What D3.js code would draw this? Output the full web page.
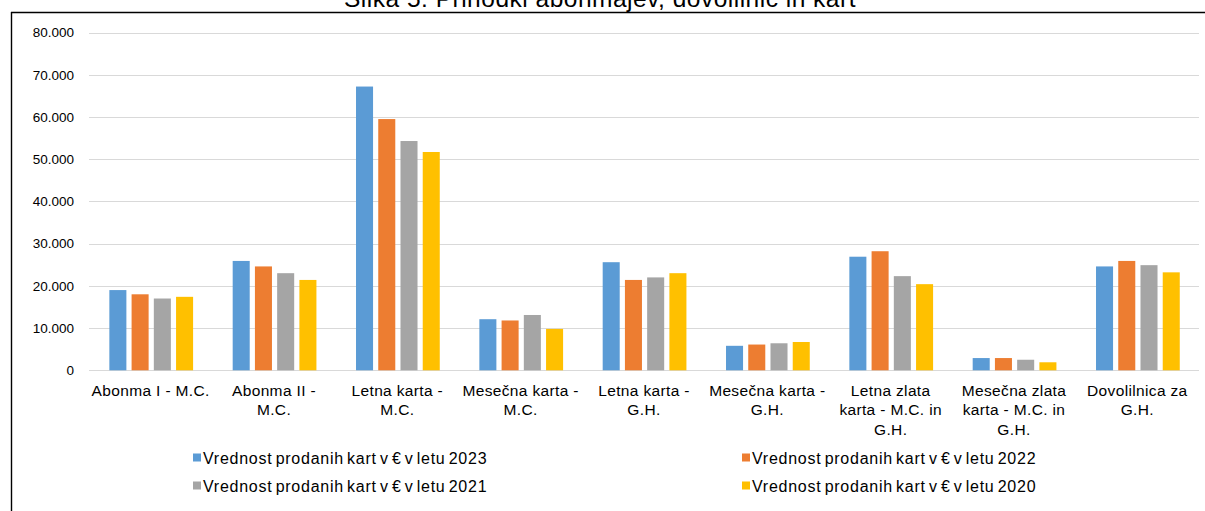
<!DOCTYPE html>
<html>
<head>
<meta charset="utf-8">
<script src="https://cdn.jsdelivr.net/npm/d3@7"></script>
<style>
  html, body { margin: 0; padding: 0; background: #fff; }
  svg { display: block; font-family: "Liberation Sans", Arial, sans-serif; }
</style>
</head>
<body>
<svg id="chart" width="1205" height="511"></svg>
<script>
const title = "Slika 5: Prihodki abonmajev, dovolilnic in kart";
const categories = [
  "Abonma I - M.C.", "Abonma II - M.C.", "Letna karta - M.C.", "Mesečna karta - M.C.",
  "Letna karta - G.H.", "Mesečna karta - G.H.", "Letna zlata karta - M.C. in G.H.",
  "Mesečna zlata karta - M.C. in G.H.", "Dovolilnica za G.H."
];
const categoryLines = [
  ["Abonma I - M.C."], ["Abonma II -", "M.C."], ["Letna karta -", "M.C."], ["Mesečna karta -", "M.C."],
  ["Letna karta -", "G.H."], ["Mesečna karta -", "G.H."], ["Letna zlata", "karta - M.C. in", "G.H."],
  ["Mesečna zlata", "karta - M.C. in", "G.H."], ["Dovolilnica za", "G.H."]
];
const seriesNames = [
  "Vrednost prodanih kart v € v letu 2023",
  "Vrednost prodanih kart v € v letu 2022",
  "Vrednost prodanih kart v € v letu 2021",
  "Vrednost prodanih kart v € v letu 2020"
];
const values2023 = [19000, 25900, 67200, 12100, 25600, 5800, 26900, 2900, 24600];
const values2022 = [18000, 24600, 59500, 11800, 21400, 6100, 28200, 2900, 25900];
const values2021 = [17000, 23000, 54300, 13100, 22000, 6400, 22300, 2500, 24900];
const values2020 = [17400, 21400, 51700, 9800, 23000, 6700, 20400, 1900, 23200];
const seriesValues = [values2023, values2022, values2021, values2020];
const colors = ["#5B9BD5", "#ED7D31", "#A5A5A5", "#FFC000"];
const yTicks = [0, 10000, 20000, 30000, 40000, 50000, 60000, 70000, 80000];

const svg = d3.select("#chart");
const W = 1205, H = 511;
const plot = { left: 89, right: 1199, top: 32.5, bottom: 370.3 };

const locale = d3.formatLocale({ decimal: ",", thousands: ".", grouping: [3], currency: ["", "€"] });
const fmt = locale.format(",d");

const x0 = d3.scaleBand().domain(categories).range([plot.left, plot.right]).padding(0);
const bw = x0.bandwidth();
const x1 = d3.scaleBand().domain(seriesNames)
  .range([bw * 0.165, bw * 0.844]).paddingInner(0.234).paddingOuter(0);
const y = d3.scaleLinear().domain([0, 80000]).range([plot.bottom, plot.top]);

// border
svg.append("line").attr("x1", 11).attr("x2", W).attr("y1", 12.5).attr("y2", 12.5)
  .attr("stroke", "#000").attr("stroke-width", 1.6);
svg.append("line").attr("x1", 11.5).attr("x2", 11.5).attr("y1", 12).attr("y2", H)
  .attr("stroke", "#000").attr("stroke-width", 1.4);

// title (cut at top in the reference)
svg.append("text").attr("x", 600).attr("y", 7).attr("text-anchor", "middle")
  .attr("font-size", 24.5).attr("letter-spacing", 0.5).attr("fill", "#000").text(title);

// gridlines
svg.append("g").selectAll("line").data(yTicks).join("line")
  .attr("x1", plot.left).attr("x2", plot.right)
  .attr("y1", d => Math.round(y(d)) + 0.5).attr("y2", d => Math.round(y(d)) + 0.5)
  .attr("stroke", "#D9D9D9").attr("stroke-width", 1.2);

// y axis labels
const yAxis = d3.axisLeft(y).tickValues(yTicks).tickFormat(fmt).tickSize(0).tickPadding(0);
const gy = svg.append("g").attr("transform", `translate(${plot.left - 15},0)`).call(yAxis);
gy.select(".domain").remove();
gy.selectAll("text").attr("font-size", 13.5).attr("fill", "#000")
  .attr("font-family", "Liberation Sans, Arial, sans-serif");

// bars
const groups = svg.append("g").selectAll("g").data(categories).join("g")
  .attr("transform", d => `translate(${x0(d)},0)`);
groups.selectAll("rect").data((c, i) => seriesNames.map((s, k) => ({ s, k, v: seriesValues[k][i] })))
  .join("rect")
  .attr("x", d => x1(d.s)).attr("width", x1.bandwidth())
  .attr("y", d => y(d.v)).attr("height", d => y(0) - y(d.v))
  .attr("fill", d => colors[d.k]);

// category labels
const xl = svg.append("g");
categories.forEach((c, i) => {
  const cx = x0(c) + bw / 2;
  const t = xl.append("text").attr("text-anchor", "middle").attr("font-size", 15.5)
    .attr("letter-spacing", 0.35).attr("fill", "#000");
  categoryLines[i].forEach((ln, j) => {
    t.append("tspan").attr("x", cx).attr("y", 395.5 + j * 19.5).text(ln);
  });
});

// legend
const legendPos = [[193, 458], [742, 458], [193, 486], [742, 486]];
const lg = svg.append("g");
seriesNames.forEach((s, k) => {
  const [lx, ly] = legendPos[k];
  lg.append("rect").attr("x", lx).attr("y", ly - 4.5).attr("width", 8).attr("height", 8).attr("fill", colors[k]);
  lg.append("text").attr("x", lx + 10).attr("y", ly + 5.5).attr("font-size", 16)
    .attr("letter-spacing", 0.75).attr("word-spacing", -2).attr("fill", "#000").text(s);
});
</script>
</body>
</html>
